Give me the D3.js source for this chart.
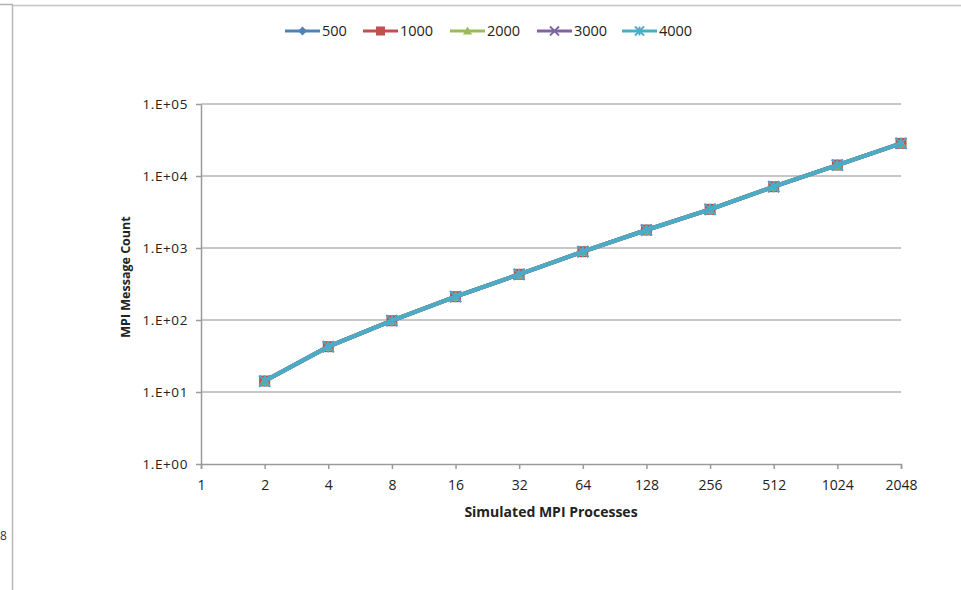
<!DOCTYPE html>
<html>
<head>
<meta charset="utf-8">
<script src="https://cdn.jsdelivr.net/npm/d3@7"></script>
<style>
  body { margin: 0; background: #fff; }
  svg { display: block; font-family: "Open Sans", "Liberation Sans", sans-serif; }
  .tick text { fill: #222; }
</style>
</head>
<body>
<div id="chart"></div>
<script>
// chart data
const processes = [2, 4, 8, 16, 32, 64, 128, 256, 512, 1024, 2048];
const xTicks = [1, 2, 4, 8, 16, 32, 64, 128, 256, 512, 1024, 2048];
const yTicks = [1, 10, 100, 1000, 10000, 100000];
const seriesNames = ["500", "1000", "2000", "3000", "4000"];
const counts500  = [14.2, 42.6, 97.8, 211, 431, 889, 1778, 3445, 7100, 14200, 28400];
const counts1000 = [14.2, 42.6, 97.8, 211, 431, 889, 1778, 3445, 7100, 14200, 28400];
const counts2000 = [14.2, 42.6, 97.8, 211, 431, 889, 1778, 3445, 7100, 14200, 28400];
const counts3000 = [14.2, 42.6, 97.8, 211, 431, 889, 1778, 3445, 7100, 14200, 28400];
const counts4000 = [14.2, 42.6, 97.8, 211, 431, 889, 1778, 3445, 7100, 14200, 28400];

function renderChart(containerId) {
  const width = 961, height = 590;
  const margin = { top: 104, right: 60, bottom: 126, left: 201 };
  const innerWidth = width - margin.left - margin.right;
  const innerHeight = height - margin.top - margin.bottom;

  const colors = ["#4F81BD", "#C0504D", "#9BBB59", "#8064A2", "#4BACC6"];
  const shapes = ["diamond", "square", "triangle", "x", "star"];
  const allCounts = [counts500, counts1000, counts2000, counts3000, counts4000];
  const series = seriesNames.map((name, i) => ({
    name, color: colors[i], shape: shapes[i],
    values: processes.map((p, j) => ({ p, v: allCounts[i][j] }))
  }));

  const svg = d3.select(`#${containerId}`)
    .append("svg")
    .attr("width", width)
    .attr("height", height);

  // outer frame bits
  svg.append("line").attr("x1", 0).attr("x2", 13).attr("y1", 4.5).attr("y2", 4.5)
    .attr("stroke", "#b0b0b0").attr("stroke-width", 1.5);
  svg.append("line").attr("x1", 12.5).attr("x2", width).attr("y1", 5.5).attr("y2", 5.5)
    .attr("stroke", "#c4c4c4").attr("stroke-width", 1.5);
  svg.append("line").attr("x1", 12.5).attr("x2", 12.5).attr("y1", 5).attr("y2", height)
    .attr("stroke", "#b8b8b8").attr("stroke-width", 1.5);
  svg.append("text").attr("x", 0).attr("y", 540)
    .style("font-size", "12px").attr("fill", "#333").text("8");

  const g = svg.append("g")
    .attr("transform", `translate(${margin.left},${margin.top})`);

  const x = d3.scaleLog().base(2).domain([1, 2048]).range([0, innerWidth]);
  const y = d3.scaleLog().domain([1, 100000]).range([innerHeight, 0]);

  // gridlines
  g.selectAll(".grid")
    .data(yTicks.slice(1))
    .join("line")
    .attr("x1", 0).attr("x2", innerWidth)
    .attr("y1", d => y(d)).attr("y2", d => y(d))
    .attr("stroke", "#b5b5b5").attr("stroke-width", 1.5);

  // y axis
  const yAxis = g.append("g")
    .call(d3.axisLeft(y).tickValues(yTicks)
      .tickFormat(d => "1.E+" + String(Math.round(Math.log10(d))).padStart(2, "0"))
      .tickSize(5).tickSizeOuter(0).tickPadding(8));
  yAxis.attr("font-family", null).attr("font-size", null);
  yAxis.select(".domain").attr("stroke", "#9a9a9a").attr("stroke-width", 1.5);
  yAxis.selectAll(".tick line").attr("stroke", "#9a9a9a").attr("stroke-width", 1.5);
  yAxis.selectAll("text").style("font-size", "13.5px").style("letter-spacing", "0.6px");

  // x axis
  const xAxis = g.append("g")
    .attr("transform", `translate(0,${innerHeight})`)
    .call(d3.axisBottom(x).tickValues(xTicks).tickFormat(d3.format("d"))
      .tickSize(5).tickSizeOuter(5).tickPadding(11));
  xAxis.attr("font-family", null).attr("font-size", null);
  xAxis.select(".domain").attr("stroke", "#9a9a9a").attr("stroke-width", 1.5);
  xAxis.selectAll(".tick line").attr("stroke", "#9a9a9a").attr("stroke-width", 1.5);
  xAxis.selectAll("text").style("font-size", "14px");

  // axis titles
  g.append("text")
    .attr("x", 551 - margin.left)
    .attr("y", 517 - margin.top)
    .attr("text-anchor", "middle")
    .style("font-size", "14px").style("font-weight", "bold").attr("fill", "#222")
    .text("Simulated MPI Processes");

  g.append("text")
    .attr("transform", "rotate(-90)")
    .attr("x", -(277 - margin.top))
    .attr("y", 130 - margin.left)
    .attr("text-anchor", "middle")
    .style("font-size", "12.5px").style("font-weight", "bold").attr("fill", "#222")
    .text("MPI Message Count");

  function marker(sel, shape, color, size) {
    const s = size;
    if (shape === "diamond") {
      sel.append("path").attr("d", `M0,${-s}L${s},0L0,${s}L${-s},0Z`).attr("fill", color);
    } else if (shape === "square") {
      sel.append("rect").attr("x", -s).attr("y", -s).attr("width", 2 * s).attr("height", 2 * s)
        .attr("fill", color);
    } else if (shape === "triangle") {
      sel.append("path").attr("d", `M0,${-s}L${s},${s * 0.8}L${-s},${s * 0.8}Z`).attr("fill", color);
    } else if (shape === "x") {
      sel.append("path").attr("d", `M${-s},${-s}L${s},${s}M${-s},${s}L${s},${-s}`)
        .attr("stroke", color).attr("stroke-width", 1.8);
    } else {
      sel.append("path").attr("d", `M${-s},${-s}L${s},${s}M${-s},${s}L${s},${-s}M0,${-s}L0,${s}`)
        .attr("stroke", color).attr("stroke-width", 1.8);
    }
  }

  const line = d3.line().x(d => x(d.p)).y(d => y(d.v));

  series.forEach(s => {
    g.append("path")
      .datum(s.values)
      .attr("fill", "none")
      .attr("stroke", s.color)
      .attr("stroke-width", 4)
      .attr("d", line);
    s.values.forEach(d => {
      const m = g.append("g").attr("transform", `translate(${x(d.p)},${y(d.v)})`);
      marker(m, s.shape, s.color, 5.5);
    });
  });

  // legend
  const legendX = [285, 363, 450, 537, 622];
  const legend = svg.append("g").attr("transform", "translate(0,31)");
  series.forEach((s, i) => {
    const lg = legend.append("g").attr("transform", `translate(${legendX[i]},0)`);
    lg.append("line").attr("x1", 0).attr("x2", 35).attr("y1", 0).attr("y2", 0)
      .attr("stroke", s.color).attr("stroke-width", 3);
    const m = lg.append("g").attr("transform", "translate(17.5,0)");
    marker(m, s.shape, s.color, 4.5);
    lg.append("text").attr("x", 37).attr("y", 5)
      .style("font-size", "14.5px").attr("fill", "#222").text(s.name);
  });
}

renderChart("chart");
</script>
</body>
</html>
